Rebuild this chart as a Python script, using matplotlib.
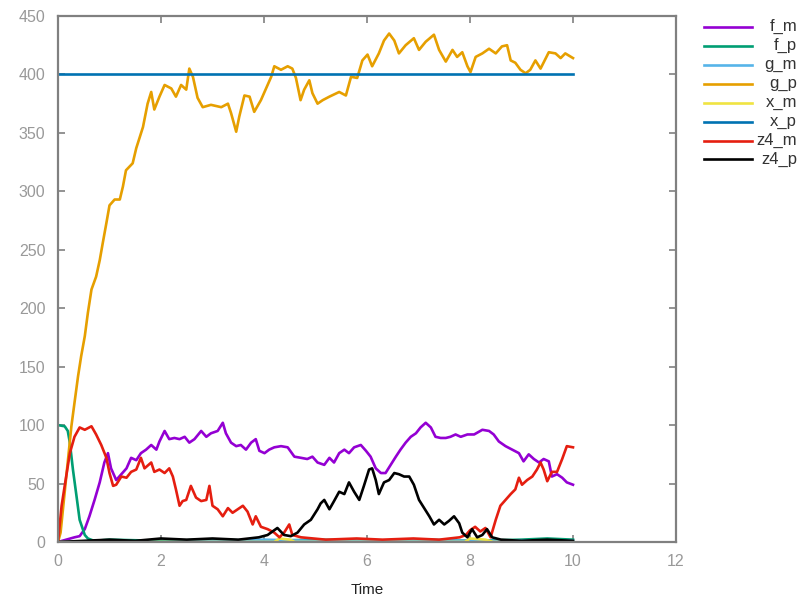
import numpy as np
import matplotlib
matplotlib.use('Agg')
import matplotlib.pyplot as plt
from matplotlib.lines import Line2D

plt.rcParams['font.family'] = ['Liberation Sans', 'DejaVu Sans']

# (time, count) knots
f_m = [(0, 0), (0.32, 4), (0.42, 5), (0.52, 11), (0.61, 22), (0.71, 36), (0.81, 51), (0.90, 68),
       (0.97, 76), (1.03, 63), (1.13, 53), (1.23, 58), (1.33, 63), (1.42, 72), (1.52, 70),
       (1.61, 76), (1.71, 79), (1.81, 83), (1.91, 79), (1.97, 86), (2.07, 95), (2.16, 88),
       (2.26, 89), (2.36, 88), (2.46, 90), (2.55, 85), (2.65, 88), (2.78, 95), (2.88, 90),
       (2.97, 93), (3.10, 95), (3.20, 102), (3.26, 93), (3.36, 85), (3.46, 82), (3.55, 83),
       (3.65, 79), (3.75, 85), (3.84, 88), (3.91, 78), (4.01, 76), (4.10, 79), (4.20, 81),
       (4.33, 82), (4.46, 81), (4.59, 73), (4.72, 72), (4.84, 71), (4.94, 73), (5.04, 68),
       (5.17, 66), (5.27, 72), (5.36, 68), (5.46, 76), (5.56, 79), (5.65, 76), (5.75, 81),
       (5.88, 83), (5.98, 78), (6.07, 73), (6.17, 63), (6.27, 59), (6.36, 59), (6.46, 66),
       (6.56, 73), (6.65, 79), (6.75, 85), (6.85, 90), (6.95, 93), (7.04, 98), (7.14, 102),
       (7.24, 98), (7.33, 90), (7.43, 89), (7.53, 89), (7.62, 90), (7.72, 92), (7.82, 90),
       (7.95, 92), (8.08, 92), (8.24, 96), (8.37, 95), (8.46, 92), (8.56, 86), (8.69, 82),
       (8.82, 79), (8.95, 76), (9.04, 69), (9.14, 75), (9.24, 71), (9.34, 68), (9.43, 71),
       (9.53, 69), (9.59, 56), (9.69, 58), (9.79, 55), (9.88, 51), (10.0, 49)]

f_p = [(0, 100), (0.13, 99), (0.19, 95), (0.23, 85), (0.29, 62), (0.36, 39), (0.42, 19),
       (0.52, 6), (0.58, 3), (0.7, 1), (1.0, 2), (2.0, 1), (3.0, 2), (4.0, 1), (5.0, 2),
       (6.0, 1), (7.0, 2), (8.0, 1), (9.0, 2), (9.5, 3), (10.0, 2)]

g_m = [(0, 0), (1, 1), (2, 0), (3, 1), (4, 2), (5, 1), (6, 1), (7, 2), (8, 1), (9, 1), (10, 1)]

g_p = [(0, 0), (0.05, 8), (0.26, 99), (0.32, 119), (0.39, 142), (0.45, 159), (0.52, 176),
       (0.58, 196), (0.65, 216), (0.74, 227), (0.81, 241), (0.87, 256), (0.94, 273),
       (1.00, 288), (1.10, 293), (1.20, 293), (1.26, 304), (1.32, 318), (1.45, 324),
       (1.52, 337), (1.65, 355), (1.74, 375), (1.81, 385), (1.87, 370), (1.97, 381),
       (2.07, 391), (2.20, 388), (2.29, 381), (2.39, 391), (2.49, 387), (2.55, 405),
       (2.62, 398), (2.71, 380), (2.81, 372), (2.97, 374), (3.17, 372), (3.30, 375),
       (3.36, 367), (3.46, 351), (3.52, 364), (3.62, 382), (3.72, 381), (3.81, 368),
       (3.94, 378), (4.04, 388), (4.14, 398), (4.20, 407), (4.33, 404), (4.46, 407),
       (4.55, 405), (4.62, 397), (4.71, 378), (4.78, 387), (4.88, 395), (4.94, 384),
       (5.04, 375), (5.14, 378), (5.27, 381), (5.46, 385), (5.59, 382), (5.69, 398),
       (5.81, 397), (5.91, 412), (6.01, 417), (6.10, 407), (6.23, 418), (6.33, 429),
       (6.43, 435), (6.53, 429), (6.62, 418), (6.75, 425), (6.91, 431), (7.01, 421),
       (7.14, 428), (7.30, 434), (7.40, 421), (7.53, 411), (7.66, 421), (7.75, 415),
       (7.85, 419), (7.95, 407), (8.01, 402), (8.11, 415), (8.24, 418), (8.37, 422),
       (8.50, 418), (8.62, 424), (8.72, 425), (8.79, 412), (8.88, 410), (8.98, 404),
       (9.08, 401), (9.17, 404), (9.27, 412), (9.37, 405), (9.53, 419), (9.66, 418),
       (9.76, 414), (9.85, 418), (10.0, 414)]

x_m = [(0, 0), (4.2, 0), (4.3, 3), (4.5, 2), (4.6, 0), (7.9, 0), (8.0, 3), (8.3, 2),
       (8.45, 0), (10, 0)]

x_p = [(0, 400), (10, 400)]

z4_m = [(0, 0), (0.07, 31), (0.13, 48), (0.23, 76), (0.32, 90), (0.42, 98), (0.52, 96),
        (0.65, 99), (0.74, 92), (0.84, 83), (0.94, 72), (1.00, 59), (1.07, 48), (1.13, 49),
        (1.23, 56), (1.33, 55), (1.42, 60), (1.52, 62), (1.61, 72), (1.68, 63), (1.81, 68),
        (1.87, 60), (1.97, 62), (2.07, 59), (2.16, 63), (2.23, 56), (2.29, 45), (2.36, 31),
        (2.42, 35), (2.49, 36), (2.58, 48), (2.68, 38), (2.78, 35), (2.88, 36), (2.94, 48),
        (3.00, 31), (3.10, 28), (3.20, 22), (3.30, 29), (3.39, 25), (3.49, 28), (3.59, 31),
        (3.68, 26), (3.78, 15), (3.84, 22), (3.94, 13), (4.07, 11), (4.20, 8), (4.30, 4),
        (4.39, 8), (4.49, 15), (4.55, 6), (4.72, 4), (5.2, 2), (5.8, 3), (6.3, 2), (6.9, 3),
        (7.4, 2), (7.8, 4), (7.92, 6), (8.0, 10), (8.1, 13), (8.2, 9), (8.3, 12), (8.40, 4),
        (8.50, 19), (8.59, 31), (8.69, 36), (8.79, 41), (8.88, 45), (8.95, 55), (9.01, 49),
        (9.11, 53), (9.21, 56), (9.30, 62), (9.37, 68), (9.43, 62), (9.50, 52), (9.59, 60),
        (9.69, 60), (9.79, 71), (9.88, 82), (10.0, 81)]

z4_p = [(0, 0), (0.5, 1), (1.0, 2), (1.5, 1), (2.0, 3), (2.5, 2), (3.0, 3), (3.5, 2),
        (3.9, 4), (4.07, 6), (4.26, 12), (4.39, 6), (4.52, 5), (4.65, 8), (4.78, 15),
        (4.91, 19), (5.04, 28), (5.10, 33), (5.17, 36), (5.27, 28), (5.36, 35), (5.46, 43),
        (5.56, 41), (5.65, 51), (5.75, 43), (5.85, 36), (5.94, 48), (6.04, 62), (6.10, 63),
        (6.17, 53), (6.23, 41), (6.33, 51), (6.43, 53), (6.53, 59), (6.62, 58), (6.72, 56),
        (6.82, 56), (6.91, 49), (7.01, 36), (7.11, 29), (7.21, 22), (7.30, 15), (7.40, 19),
        (7.50, 15), (7.59, 18), (7.69, 22), (7.79, 16), (7.85, 8), (7.95, 4), (8.04, 11),
        (8.14, 4), (8.24, 6), (8.33, 11), (8.43, 4), (8.6, 2), (9.0, 1), (9.5, 2), (10.0, 1)]

labels = ['f_m', 'f_p', 'g_m', 'g_p', 'x_m', 'x_p', 'z4_m', 'z4_p']
series = [f_m, f_p, g_m, g_p, x_m, x_p, z4_m, z4_p]
colors = ['#9400d3', '#009e73', '#56b4e9', '#e69f00', '#f0e442', '#0072b2', '#e51e10', '#000000']

frame_col = '#808080'
tick_col = '#999999'

fig = plt.figure(figsize=(8.07, 5.96), dpi=100)
ax = fig.add_axes([58 / 807, 1 - 542 / 596, (676 - 58) / 807, (542 - 16) / 596])

for name, pts, col in zip(labels, series, colors):
    arr = np.array(pts, dtype=float)
    ax.plot(arr[:, 0], arr[:, 1], color=col, lw=1.9, label=name)

ax.set_xlim(0, 12)
ax.set_ylim(0, 450)
ax.set_xticks(np.arange(0, 13, 2))
ax.set_yticks(np.arange(0, 451, 50))
ax.tick_params(direction='in', length=5, width=1.2, color=frame_col, labelcolor=tick_col,
               labelsize=11.5, top=True, right=True, pad=9)
for sp in ax.spines.values():
    sp.set_color(frame_col)
    sp.set_linewidth(1.6)
ax.set_xlabel('Time', fontsize=11, color='#222222', labelpad=10)

# legend outside on the right, gnuplot style: sample line then right-aligned label
for i, (name, col) in enumerate(zip(labels, colors)):
    y = 1 - (26.5 + 19 * i) / 596
    fig.add_artist(Line2D([704 / 807, 752 / 807], [y, y], color=col, lw=1.9))
    fig.text(797 / 807, y, name, ha='right', va='center', fontsize=12, color='#333333')

fig.savefig('out.png', dpi=100)
